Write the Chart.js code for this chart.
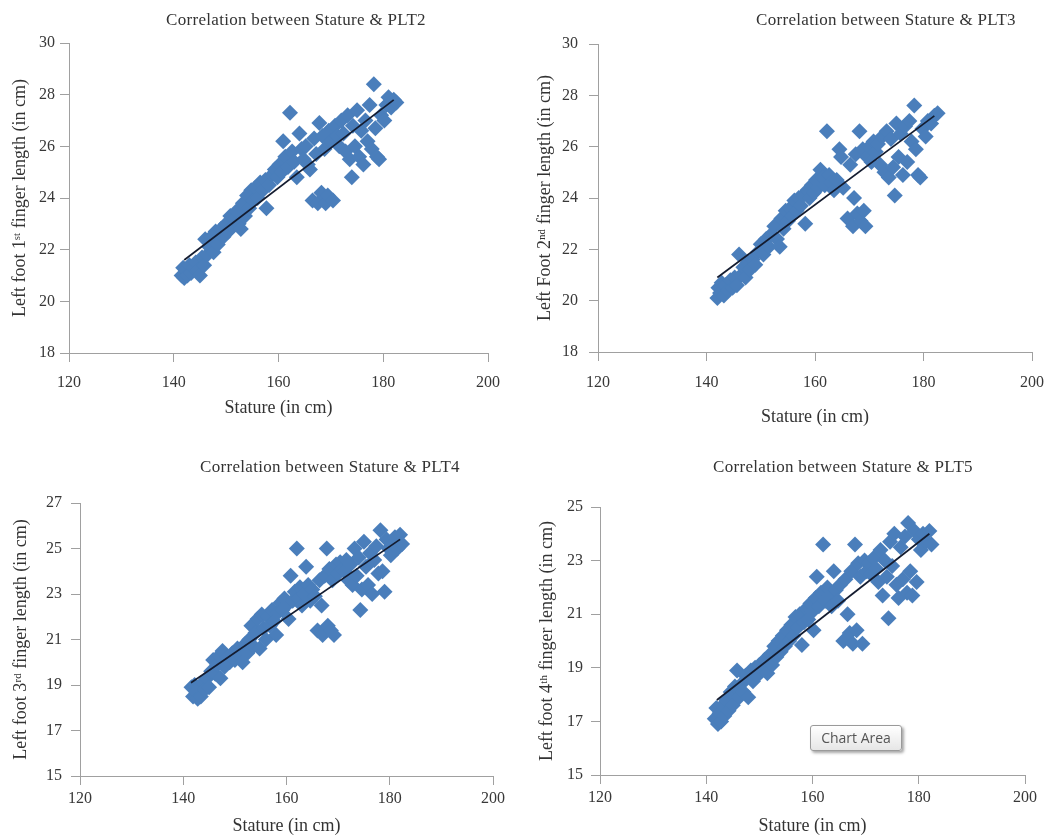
<!DOCTYPE html>
<html>
<head>
<meta charset="utf-8">
<title>Correlation between Stature & PLT</title>
<script src="https://cdn.jsdelivr.net/npm/chart.js@4.4.1/dist/chart.umd.min.js"></script>
<style>
  body { margin: 0; background: #fff; }
  #page { position: relative; width: 1046px; height: 837px; overflow: hidden; background: #fff; }
  .panel { position: absolute; }
  .ptitle {
    position: absolute;
    transform: translate(-50%, -50%);
    white-space: nowrap;
    font: 17px "Liberation Serif", serif;
    letter-spacing: 0.3px;
    color: #333;
  }
  #chartAreaTip {
    position: absolute;
    left: 810px; top: 725px; width: 92px; height: 26px;
    box-sizing: border-box;
    border: 1px solid #9a9a9a;
    border-radius: 3px;
    background: linear-gradient(#ffffff, #e6e6e6);
    box-shadow: 2px 2px 3px rgba(0, 0, 0, 0.35);
    font: 14px "Open Sans", "DejaVu Sans", sans-serif;
    color: #555;
    text-align: center;
    line-height: 24px;
  }
</style>
</head>
<body>
<div id="page">
  <div class="panel" style="left:0;top:0;width:505px;height:425px"><canvas id="c1"></canvas></div>
  <div class="panel" style="left:520px;top:0;width:526px;height:430px"><canvas id="c2"></canvas></div>
  <div class="panel" style="left:0;top:440px;width:510px;height:397px"><canvas id="c3"></canvas></div>
  <div class="panel" style="left:520px;top:440px;width:526px;height:397px"><canvas id="c4"></canvas></div>

  <div class="ptitle" style="left:296px;top:20px">Correlation between Stature &amp; PLT2</div>
  <div class="ptitle" style="left:886px;top:20px">Correlation between Stature &amp; PLT3</div>
  <div class="ptitle" style="left:330px;top:467px">Correlation between Stature &amp; PLT4</div>
  <div class="ptitle" style="left:843px;top:467px">Correlation between Stature &amp; PLT5</div>

  <div id="chartAreaTip">Chart Area</div>
</div>

<script>
// ---- data ----

// PLT2: left foot 1st finger
const plt2Stature = [141.5, 141.8, 142.0, 142.3, 142.6, 143.0, 143.3, 143.8, 144.2, 144.6,
  145.0, 145.4, 145.8, 146.0, 146.4, 146.8, 147.2, 147.6, 148.0, 148.4,
  149.0, 149.5, 150.0, 150.4, 150.8, 151.2, 151.6, 152.0, 152.4, 152.8,
  153.2, 153.6, 154.0, 154.4, 154.8, 155.2, 155.6, 156.0, 156.5, 157.0,
  157.5, 157.7, 158.2, 158.8, 159.3, 159.8, 160.2, 160.6, 160.9, 161.3,
  161.8, 162.2, 162.6, 163.0, 163.5, 164.0, 164.4, 164.8, 165.2, 165.6,
  166.0, 166.5, 166.8, 167.2, 167.5, 167.8, 168.2, 168.4, 168.8, 169.0,
  169.4, 169.6, 170.0, 170.4, 170.8, 171.2, 171.6, 172.0, 172.4, 172.8,
  173.2, 173.6, 174.0, 174.2, 174.6, 175.0, 175.4, 175.8, 176.2, 176.6,
  177.0, 177.4, 177.8, 178.2, 178.5, 178.8, 179.2, 179.6, 180.2, 180.6,
  181.0, 181.5, 182.0, 182.5];
const plt2Length = [21.0, 21.3, 20.9, 21.2, 21.0, 21.4, 21.1, 21.3, 21.5, 21.2,
  21.0, 21.7, 21.4, 22.4, 21.8, 22.1, 22.5, 21.9, 22.7, 22.2,
  22.8, 22.5, 23.0, 22.7, 23.3, 22.9, 23.2, 23.5, 23.0, 22.8,
  23.8, 23.3, 24.1, 23.6, 24.3, 23.9, 24.4, 24.0, 24.6, 24.3,
  24.7, 23.6, 24.5, 24.9, 25.1, 24.8, 25.3, 25.0, 26.2, 25.6,
  25.2, 27.3, 25.8, 25.4, 24.8, 26.5, 25.9, 25.5, 26.0, 25.3,
  25.1, 23.9, 26.3, 25.7, 23.8, 26.9, 24.2, 26.4, 25.9, 23.8,
  24.1, 26.6, 26.2, 23.9, 26.8, 26.4, 26.0, 27.0, 26.5, 25.8,
  27.2, 25.5, 24.8, 26.8, 26.0, 27.4, 25.6, 26.6, 25.3, 27.0,
  26.2, 27.6, 25.9, 28.4, 26.7, 25.6, 25.5, 27.2, 27.0, 27.6,
  27.9, 27.5, 27.8, 27.7];
const plt2TrendX = [142, 182];
const plt2TrendY = [21.6, 27.8];

// PLT3: left foot 2nd finger
const plt3Stature = [142.0, 142.2, 142.5, 142.8, 143.2, 143.5, 144.0, 144.4, 144.8, 145.2,
  145.6, 146.0, 146.4, 146.8, 147.2, 147.6, 148.0, 148.5, 149.0, 149.5,
  150.0, 150.5, 151.0, 151.5, 152.0, 152.5, 153.0, 153.5, 153.8, 154.2,
  154.6, 155.0, 155.4, 155.8, 156.2, 156.6, 157.0, 157.4, 157.8, 158.2,
  158.6, 159.0, 159.4, 159.8, 160.2, 160.6, 161.0, 161.4, 161.8, 162.2,
  162.6, 163.0, 163.5, 164.0, 164.5, 164.8, 165.2, 166.0, 166.5, 167.0,
  167.2, 167.5, 167.8, 168.2, 168.4, 168.8, 169.0, 169.3, 169.6, 170.0,
  170.4, 170.8, 171.2, 171.6, 172.0, 172.4, 172.8, 173.2, 173.6, 174.0,
  174.4, 174.7, 175.0, 175.4, 175.8, 176.2, 176.6, 177.0, 177.4, 177.8,
  178.3, 178.6, 179.0, 179.4, 179.8, 180.4, 180.8, 181.4, 182.0, 182.6];
const plt3Length = [20.1, 20.5, 20.3, 20.7, 20.2, 20.6, 20.4, 20.8, 20.5, 20.9,
  20.6, 21.8, 21.0, 21.3, 20.9, 21.5, 21.2, 21.6, 21.4, 21.9,
  22.2, 21.8, 22.4, 22.1, 22.6, 22.9, 22.4, 22.1, 23.2, 22.8,
  23.5, 23.1, 23.6, 23.3, 23.9, 23.5, 24.0, 23.7, 24.1, 23.0,
  24.3, 24.0, 24.5, 24.2, 24.7, 24.4, 25.1, 24.8, 24.5, 26.6,
  24.9, 24.6, 24.3, 24.7, 25.9, 25.6, 24.4, 23.2, 25.3, 22.9,
  24.0, 25.7, 23.4, 26.6, 23.1, 25.9, 23.5, 22.9, 25.6, 26.0,
  25.4, 26.2, 25.8, 26.1, 25.3, 26.4, 25.0, 26.6, 24.8, 26.3,
  25.2, 24.1, 26.9, 25.6, 26.5, 24.9, 26.8, 25.4, 27.0, 26.2,
  27.6, 25.9, 24.9, 24.8, 26.7, 26.4, 27.0, 26.9, 27.2, 27.3];
const plt3TrendX = [142, 182];
const plt3TrendY = [20.9, 27.2];

// PLT4: left foot 3rd finger
const plt4Stature = [141.6, 141.9, 142.2, 142.5, 142.8, 143.1, 143.4, 143.8, 144.2, 144.6,
  145.0, 145.4, 145.8, 146.2, 146.6, 147.0, 147.2, 147.6, 148.0, 148.5,
  149.0, 149.5, 150.0, 150.5, 151.0, 151.5, 152.0, 152.4, 152.8, 153.2,
  153.6, 154.0, 154.4, 154.8, 155.2, 155.6, 156.0, 156.4, 156.8, 157.2,
  157.6, 158.0, 158.4, 158.8, 159.2, 159.6, 160.0, 160.4, 160.8, 161.2,
  161.6, 162.0, 162.3, 162.6, 163.0, 163.4, 163.8, 164.2, 164.6, 165.0,
  165.5, 166.0, 166.4, 166.8, 167.0, 167.4, 167.8, 168.0, 168.3, 168.6,
  168.9, 169.2, 169.6, 170.0, 170.4, 170.8, 171.2, 171.6, 172.0, 172.4,
  172.8, 173.2, 173.6, 174.0, 174.3, 174.6, 175.0, 175.4, 175.8, 176.2,
  176.6, 177.0, 177.4, 177.8, 178.2, 178.6, 179.0, 179.4, 179.8, 180.2,
  180.6, 181.0, 181.5, 182.0, 182.4];
const plt4Length = [18.9, 18.5, 19.0, 18.7, 18.4, 18.9, 18.5, 19.1, 18.8, 19.3,
  18.9, 19.6, 20.1, 19.5, 19.9, 20.3, 19.3, 20.5, 19.8, 20.2,
  20.0, 20.4, 20.1, 20.6, 20.3, 20.0, 20.8, 20.4, 21.0, 21.6,
  20.7, 21.3, 21.9, 20.6, 22.1, 21.5, 21.0, 22.0, 21.6, 22.3,
  21.8, 21.2, 22.2, 22.6, 22.3, 22.8, 22.5, 21.9, 23.8, 22.7,
  23.1, 25.0, 22.8, 23.3, 22.5, 23.0, 24.2, 23.4, 22.7, 23.2,
  22.9, 21.4, 23.6, 22.5, 21.2, 23.8, 25.0, 21.6, 24.1, 21.4,
  23.6, 21.2, 24.3, 23.9, 24.4, 24.1, 24.0, 24.5, 23.6, 24.3,
  23.4, 25.0, 23.8, 24.6, 22.3, 23.2, 25.3, 24.2, 23.4, 24.8,
  23.0, 24.5, 25.1, 23.9, 25.8, 24.0, 23.1, 25.4, 25.0, 24.7,
  25.2, 25.5, 25.0, 25.6, 25.2];
const plt4TrendX = [141.5, 182];
const plt4TrendY = [19.1, 25.4];

// PLT5: left foot 4th finger
const plt5Stature = [141.6, 141.9, 142.2, 142.5, 142.8, 143.1, 143.4, 143.8, 144.2, 144.6,
  145.0, 145.4, 145.8, 146.2, 146.6, 147.0, 147.4, 147.9, 148.4, 148.8,
  149.2, 149.6, 150.0, 150.5, 151.0, 151.5, 152.0, 152.4, 152.8, 153.2,
  153.6, 154.0, 154.4, 154.8, 155.2, 155.6, 156.0, 156.4, 156.8, 157.2,
  157.6, 158.0, 158.4, 158.8, 159.2, 159.6, 160.0, 160.2, 160.6, 160.8,
  161.2, 161.6, 162.0, 162.4, 162.8, 163.2, 163.6, 164.0, 164.4, 164.8,
  165.2, 165.8, 166.2, 166.6, 167.0, 167.3, 167.6, 168.0, 168.3, 168.6,
  169.0, 169.4, 169.8, 170.2, 170.6, 171.0, 171.5, 172.0, 172.4, 172.8,
  173.2, 173.6, 174.0, 174.3, 174.6, 175.0, 175.4, 175.8, 176.2, 176.6,
  177.0, 177.4, 177.8, 178.0, 178.4, 178.8, 179.2, 179.6, 180.0, 180.4,
  180.8, 181.4, 182.0, 182.4];
const plt5Length = [17.1, 17.5, 16.9, 17.3, 17.0, 17.6, 17.2, 17.8, 17.4, 18.1,
  17.6, 18.3, 18.9, 17.9, 18.4, 18.1, 18.7, 17.9, 18.9, 18.5,
  19.0, 18.7, 19.1, 18.9, 19.3, 18.8, 19.5, 19.1, 19.8, 19.4,
  20.0, 19.6, 20.2, 19.8, 20.4, 20.0, 20.6, 20.2, 20.9, 20.5,
  21.0, 19.85, 20.7, 21.2, 20.8, 21.4, 21.1, 20.4, 21.6, 22.4,
  21.3, 21.8, 23.6, 21.5, 22.0, 21.7, 21.3, 22.6, 21.9, 21.5,
  22.1, 20.0, 22.3, 21.0, 20.3, 22.6, 19.9, 23.6, 20.4, 22.9,
  22.4, 19.9, 23.0, 22.6, 22.9, 22.5, 23.1, 22.7, 22.2, 23.4,
  21.7, 23.0, 22.4, 20.85, 23.7, 22.8, 24.0, 22.1, 21.6, 23.5,
  22.3, 23.9, 21.8, 24.4, 22.6, 21.7, 24.1, 22.2, 23.8, 23.4,
  24.0, 23.7, 24.1, 23.6];
const plt5TrendX = [142, 182];
const plt5TrendY = [17.8, 24.0];

const xTicks = [120, 140, 160, 180, 200];

// ---- drawing ----
Chart.defaults.font.family = "'Liberation Serif', 'Times New Roman', serif";
Chart.defaults.color = "#383838";

const AXIS_COLOR = "#a0a0a0";
const POINT_COLOR = "#4a7ebb";
const TREND_COLOR = "#141c30";

function toPoints(xs, ys) {
  return xs.map((x, i) => ({ x: x, y: ys[i] }));
}

function drawPanel(id, o) {
  const ctx = document.getElementById(id).getContext("2d");
  return new Chart(ctx, {
    type: "scatter",
    data: {
      datasets: [
        {
          type: "line",
          data: toPoints(o.trendX, o.trendY),
          borderColor: TREND_COLOR,
          borderWidth: 1.75,
          pointRadius: 0,
          fill: false,
          order: 0,
        },
        {
          type: "scatter",
          data: toPoints(o.xs, o.ys),
          pointStyle: "rectRot",
          pointRadius: 8,
          backgroundColor: POINT_COLOR,
          borderWidth: 0,
          order: 1,
        },
      ],
    },
    options: {
      responsive: true,
      maintainAspectRatio: false,
      animation: false,
      events: [],
      layout: { padding: { left: 0, right: o.padRight, top: o.padTop, bottom: 0 } },
      plugins: { legend: { display: false }, tooltip: { enabled: false } },
      scales: {
        x: {
          type: "linear",
          min: xTicks[0],
          max: xTicks[xTicks.length - 1],
          afterBuildTicks: (s) => { s.ticks = xTicks.map((v) => ({ value: v })); },
          ticks: { padding: o.xPad, font: { size: 16 } },
          grid: { drawOnChartArea: false, tickLength: 9, color: AXIS_COLOR },
          border: { color: AXIS_COLOR },
          title: {
            display: true,
            text: "Stature (in cm)",
            font: { size: 18 },
            color: "#333",
            padding: { top: 0, bottom: o.xTitlePad },
          },
          afterFit: (s) => { s.height = o.xHeight; s.paddingLeft = 0; s.paddingRight = 0; },
        },
        y: {
          type: "linear",
          min: o.yMin,
          max: o.yMax,
          ticks: { stepSize: 2, padding: o.yPad, font: { size: 16 } },
          grid: { drawOnChartArea: false, tickLength: 9, color: AXIS_COLOR },
          border: { color: AXIS_COLOR },
          title: {
            display: true,
            text: o.yTitle,
            font: { size: 18 },
            color: "#333",
            padding: { top: o.yTitlePad, bottom: 0 },
          },
          afterFit: (s) => { s.width = o.yWidth; s.paddingTop = 0; s.paddingBottom = 0; },
        },
      },
    },
  });
}

drawPanel("c1", {
  xs: plt2Stature, ys: plt2Length, trendX: plt2TrendX, trendY: plt2TrendY,
  yMin: 18, yMax: 30, yTitle: "Left foot 1\u02E2\u1D57 finger length (in cm)",
  padTop: 43, padRight: 17, yWidth: 69, xHeight: 72,
  xPad: 11, yPad: 5, xTitlePad: 6, yTitlePad: 9,
});

drawPanel("c2", {
  xs: plt3Stature, ys: plt3Length, trendX: plt3TrendX, trendY: plt3TrendY,
  yMin: 18, yMax: 30, yTitle: "Left Foot 2\u207F\u1D48 finger length (in cm)",
  padTop: 44, padRight: 14, yWidth: 78, xHeight: 78,
  xPad: 12, yPad: 11, xTitlePad: 2, yTitlePad: 14,
});

drawPanel("c3", {
  xs: plt4Stature, ys: plt4Length, trendX: plt4TrendX, trendY: plt4TrendY,
  yMin: 15, yMax: 27, yTitle: "Left foot 3\u02B3\u1D48 finger length (in cm)",
  padTop: 63, padRight: 17, yWidth: 80, xHeight: 61,
  xPad: 4, yPad: 9, xTitlePad: 0, yTitlePad: 10,
});

drawPanel("c4", {
  xs: plt5Stature, ys: plt5Length, trendX: plt5TrendX, trendY: plt5TrendY,
  yMin: 15, yMax: 25, yTitle: "Left foot 4\u1D57\u02B0 finger length (in cm)",
  padTop: 67, padRight: 21, yWidth: 80, xHeight: 62,
  xPad: 4, yPad: 8, xTitlePad: 0, yTitlePad: 16,
});
</script>
</body>
</html>
